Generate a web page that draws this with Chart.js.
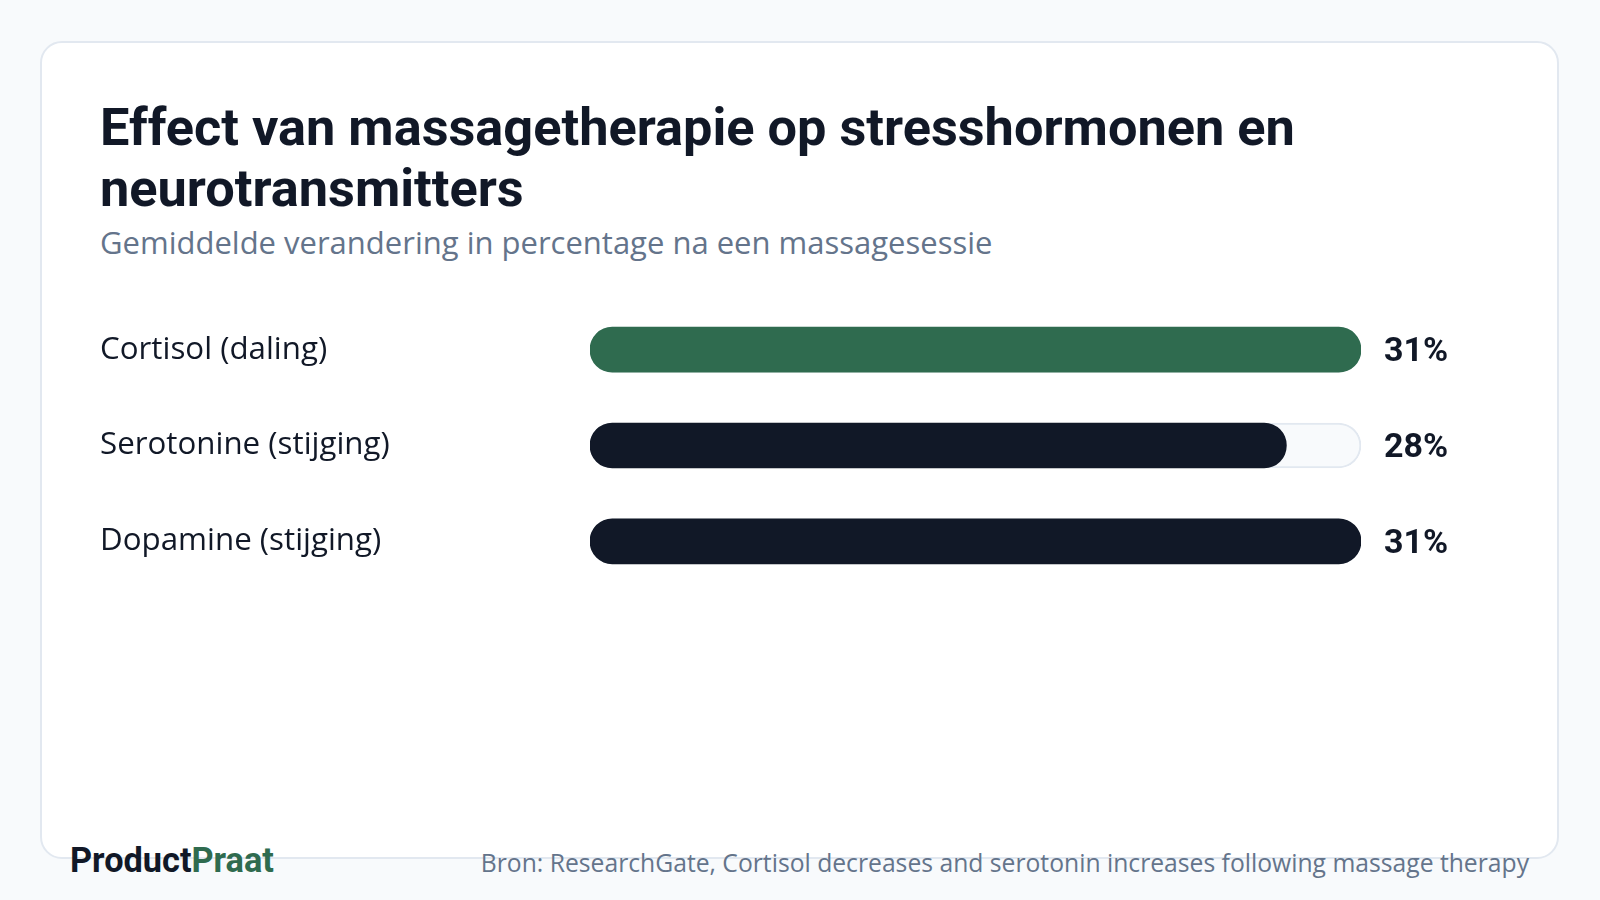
<!DOCTYPE html>
<html>
<head>
<meta charset="utf-8">
<script src="https://cdn.jsdelivr.net/npm/chart.js@4.4.1/dist/chart.umd.min.js"></script>
<style>
  html, body { margin: 0; padding: 0; }
  body { width: 1600px; height: 900px; background: #f8fafc; position: relative; overflow: hidden; }
  .card { position: absolute; left: 40px; top: 41px; width: 1515px; height: 814px; background: #fff;
          border: 2px solid #e2e8f0; border-radius: 22px; }
  h1 { position: absolute; left: 100px; top: 97px; width: 1300px; margin: 0; font-family: Roboto, sans-serif;
       font-weight: 700; font-size: 52.3px; line-height: 61px; color: #111827; }
  .sub { position: absolute; left: 100px; top: 221px; margin: 0; font-family: "Open Sans", sans-serif;
         font-size: 31px; color: #64748b; }
  .chartbox { position: absolute; left: 100px; top: 283px; width: 1400px; height: 325px; }
  .brand { position: absolute; left: 70px; top: 840px; font-family: Roboto, sans-serif; font-weight: 700;
           font-size: 34.3px; color: #111827; }
  .brand span { color: #2f6b4f; }
  .source { position: absolute; right: 71px; top: 846px; font-family: "Open Sans", sans-serif;
            font-size: 24.7px; color: #64748b; }
</style>
</head>
<body>
<div class="card"></div>
<h1>Effect van massagetherapie op stresshormonen en neurotransmitters</h1>
<div class="sub">Gemiddelde verandering in percentage na een massagesessie</div>
<div class="chartbox"><canvas id="bars"></canvas></div>
<div class="brand">Product<span>Praat</span></div>
<div class="source">Bron: ResearchGate, Cortisol decreases and serotonin increases following massage therapy</div>

<script>
// Data
var categories = ["Cortisol (daling)", "Serotonine (stijging)", "Dopamine (stijging)"];
var values = [31, 28, 31];
var barColors = ["#2f6b4f", "#111827", "#111827"];
var scaleMax = 31;
var trackValues = [31, 31, 31];

// value labels right of the track
var valueLabels = {
    id: "valueLabels",
    afterDatasetsDraw: function(chart) {
        var ctx = chart.ctx;
        var xScale = chart.scales.x;
        var meta = chart.getDatasetMeta(0);
        ctx.save();
        ctx.font = "700 34px Roboto, sans-serif";
        ctx.fillStyle = "#111827";
        ctx.textAlign = "left";
        ctx.textBaseline = "middle";
        for (var i = 0; i < values.length; i++) {
            var x = xScale.getPixelForValue(scaleMax) + 23;
            ctx.fillText(values[i] + "%", x, meta.data[i].y + 3);
        }
        ctx.restore();
    }
};

var ctx = document.getElementById("bars");

var chartData = {
    labels: categories,
    datasets: [{
        label: "Verandering",
        data: values,
        backgroundColor: barColors,
        borderWidth: 0,
        borderRadius: 999,
        borderSkipped: false,
        barThickness: 45,
        order: 0
    }, {
        label: "Track",
        data: trackValues,
        backgroundColor: "#f8fafc",
        borderColor: "#e2e8f0",
        borderWidth: 2,
        borderRadius: 999,
        borderSkipped: false,
        barThickness: 45,
        order: 1
    }]
};

var config = {
    type: "bar",
    data: chartData,
    plugins: [valueLabels],
    options: {
        indexAxis: "y",
        responsive: true,
        maintainAspectRatio: false,
        animation: false,
        layout: { padding: { left: 0, right: 139, top: 0, bottom: 0 } },
        datasets: { bar: { grouped: false } },
        plugins: { legend: { display: false }, tooltip: { enabled: false } },
        scales: {
            x: { display: false, min: 0, max: scaleMax, grid: { display: false } },
            y: {
                grid: { display: false },
                border: { display: false },
                ticks: {
                    crossAlign: "far",
                    color: "#111827",
                    font: { family: "'Open Sans', sans-serif", size: 31.3 },
                    padding: 0
                },
                afterFit: function(axis) { axis.width = 490; }
            }
        }
    }
};

var barChart = new Chart(ctx, config);
</script>
</body>
</html>
